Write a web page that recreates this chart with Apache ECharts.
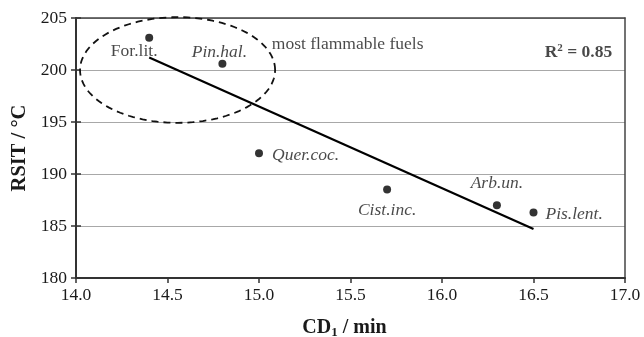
<!DOCTYPE html>
<html><head><meta charset="utf-8">
<script src="https://cdn.jsdelivr.net/npm/echarts@6/dist/echarts.min.js"></script>
<style>html,body{margin:0;padding:0;background:#fff}#c{width:644px;height:337px}</style>
</head><body><div id="c"></div>
<script>
// Fuel species: time to first decomposition vs. ignition temperature
const species = ['For.lit.', 'Pin.hal.', 'Quer.coc.', 'Cist.inc.', 'Arb.un.', 'Pis.lent.'];
const cd1 = [14.4, 14.8, 15.0, 15.7, 16.3, 16.5];
const rsit = [203.1, 200.6, 192.0, 188.5, 187.0, 186.3];
const labelPos = ['bottom', 'top', 'right', 'bottom', 'top', 'right'];
const labelGap = [1, -1.5, 9, 8, 9, 8];
const labelShift = [[-15, 0], [-3, 0], [0, 2], [0, 0], [0, 0], [0, 2]];
const labelItalic = [false, true, true, true, true, true];

// Linear fit end points
const trendX = [14.4, 16.5];
const trendY = [201.2, 184.7];

// Dashed ellipse around the most flammable fuels (data units)
const ellipseCenter = [14.555, 200.0];
const ellipseRadius = [0.533, 5.08];

// Text annotations anchored in data coordinates
const noteX = [15.07, 16.93];
const noteY = [202.5, 201.7];
const noteText = ['most flammable fuels', '{b|R}{sup|2}{b| = 0.85}'];

const FONT = '"Liberation Serif", "Times New Roman", serif';
const INK = '#1a1a1a';

const pointData = cd1.map((x, i) => ({
  value: [x, rsit[i]],
  label: {
    show: true,
    formatter: species[i],
    position: labelPos[i],
    distance: labelGap[i],
    offset: labelShift[i],
    fontStyle: labelItalic[i] ? 'italic' : 'normal'
  }
}));

const hiddenAxis = {
  axisTick: { show: false }, axisLabel: { show: false }, splitLine: { show: false }
};

const chart = echarts.init(document.getElementById('c'), null, { renderer: 'canvas' });
chart.setOption({
  animation: false,
  backgroundColor: '#fff',
  textStyle: { fontFamily: FONT, color: INK },
  grid: { left: 76, right: 19, top: 18, bottom: 59, containLabel: false, outerBoundsMode: 'none' },
  xAxis: [{
    type: 'value', min: 14, max: 17, interval: 0.5,
    name: '{b|CD}{sub|1}{b| / min}', nameLocation: 'middle', nameGap: 39,
    nameTextStyle: {
      padding: [0, 12, 0, 0],
      rich: {
        b: { fontFamily: FONT, fontWeight: 'bold', fontSize: 20, color: INK },
        sub: { fontFamily: FONT, fontWeight: 'bold', fontSize: 13, color: INK, verticalAlign: 'bottom', padding: [9, 0, 0, 0] }
      }
    },
    axisLine: { lineStyle: { color: '#333', width: 2 } },
    axisTick: { show: true, length: 5, lineStyle: { color: '#333', width: 1.5 } },
    axisLabel: { fontFamily: FONT, fontSize: 17.5, color: INK, margin: 8, formatter: v => v.toFixed(1) },
    splitLine: { show: false }
  }, Object.assign({
    type: 'value', min: 14, max: 17, position: 'top',
    axisLine: { show: true, lineStyle: { color: '#444', width: 1.5 } }
  }, hiddenAxis)],
  yAxis: [{
    type: 'value', min: 180, max: 205, interval: 5,
    name: 'RSIT / °C', nameLocation: 'middle', nameGap: 44, nameRotate: 90,
    nameTextStyle: { fontFamily: FONT, fontWeight: 'bold', fontSize: 20.5, color: INK },
    axisLine: { show: true, lineStyle: { color: '#333', width: 2 } },
    axisTick: { show: true, length: 5, lineStyle: { color: '#333', width: 1.5 } },
    axisLabel: { fontFamily: FONT, fontSize: 17.5, color: INK, margin: 9 },
    splitLine: { show: true, lineStyle: { color: '#a8a8a8', width: 1.2 } }
  }, Object.assign({
    type: 'value', min: 180, max: 205, position: 'right',
    axisLine: { show: true, lineStyle: { color: '#444', width: 1.5 } }
  }, hiddenAxis), {
    // inner half of the crossing ticks on the left axis
    type: 'value', min: 180, max: 205, interval: 5, position: 'left',
    axisLine: { show: false },
    axisTick: { show: true, inside: true, length: 5, lineStyle: { color: '#333', width: 1.5 } },
    axisLabel: { show: false }, splitLine: { show: false }
  }],
  series: [{
    type: 'line',
    data: trendX.map((x, i) => [x, trendY[i]]),
    showSymbol: false, symbol: 'none',
    lineStyle: { color: '#000', width: 2.2 },
    z: 3
  }, {
    type: 'custom',
    data: [[ellipseCenter[0], ellipseCenter[1], ellipseRadius[0], ellipseRadius[1]]],
    renderItem: (params, api) => {
      const cx = api.value(0), cy = api.value(1), rx = api.value(2), ry = api.value(3);
      const pts = [];
      for (let k = 0; k <= 120; k++) {
        const t = (k / 120) * Math.PI * 2;
        pts.push(api.coord([cx + rx * Math.cos(t), cy + ry * Math.sin(t)]));
      }
      return {
        type: 'polyline',
        shape: { points: pts },
        style: { fill: null, stroke: '#111', lineWidth: 1.8, lineDash: [7, 5] }
      };
    },
    clip: false, silent: true, z: 2
  }, {
    type: 'scatter',
    data: pointData,
    symbol: 'circle', symbolSize: 8,
    itemStyle: { color: '#000' },
    label: { fontFamily: FONT, fontSize: 17.5, color: INK },
    z: 4
  }, {
    type: 'scatter',
    data: noteX.map((x, i) => ({
      value: [x, noteY[i]],
      label: {
        show: true, formatter: noteText[i], position: 'inside',
        align: i === 0 ? 'left' : 'right'
      }
    })),
    symbolSize: 0,
    label: {
      fontFamily: FONT, fontSize: 17.5, color: INK,
      rich: {
        b: { fontFamily: FONT, fontWeight: 'bold', fontSize: 17.5, color: INK, lineHeight: 20 },
        sup: { fontFamily: FONT, fontWeight: 'bold', fontSize: 11, color: INK, verticalAlign: 'top', lineHeight: 20, padding: [0, 0, 9, 0] }
      }
    },
    silent: true, z: 5
  }]
});
</script>
</body></html>
